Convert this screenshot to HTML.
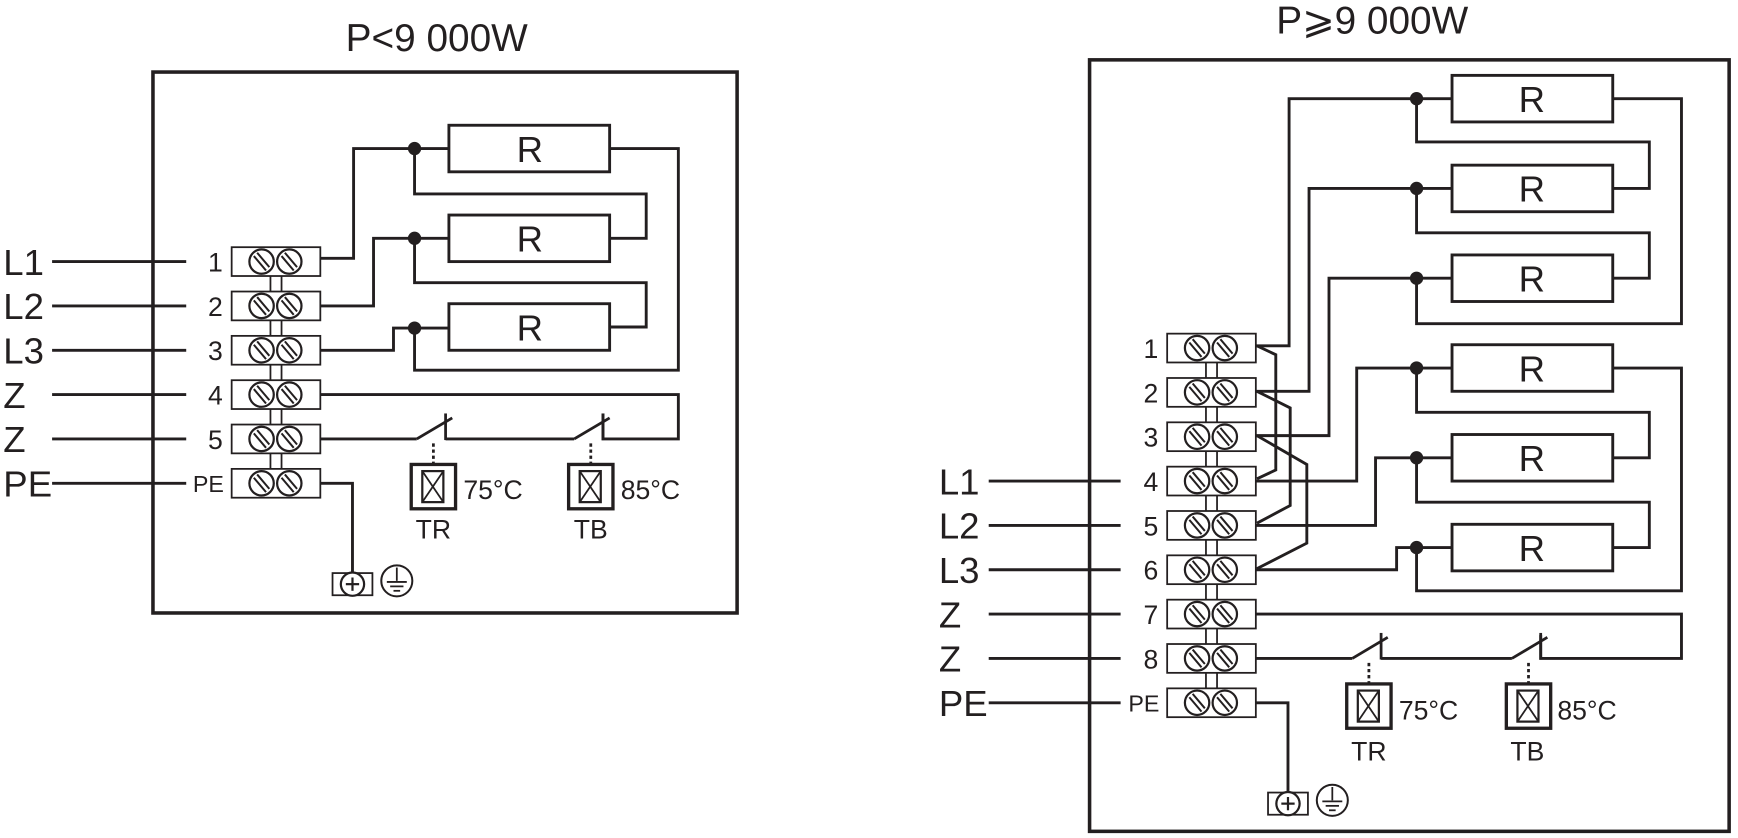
<!DOCTYPE html>
<html><head><meta charset="utf-8">
<style>
html,body{margin:0;padding:0;background:#fff;}
svg{display:block;}
text{font-family:"Liberation Sans",sans-serif;fill:#231f20;}
</style></head>
<body>
<svg width="1738" height="838" viewBox="0 0 1568 756" preserveAspectRatio="none" xmlns="http://www.w3.org/2000/svg">
<defs>
<g id="term">
<rect x="0" y="-13" width="80" height="26" fill="#fff" stroke="#231f20" stroke-width="1.6"/>
<circle cx="27" cy="0" r="11" fill="#fff" stroke="#231f20" stroke-width="2"/>
<circle cx="52" cy="0" r="11" fill="#fff" stroke="#231f20" stroke-width="2"/>
<g stroke="#231f20" stroke-width="1.8">
<line x1="20" y1="-5" x2="31" y2="8"/><line x1="23" y1="-8" x2="34" y2="5"/>
<line x1="45" y1="-5" x2="56" y2="8"/><line x1="48" y1="-8" x2="59" y2="5"/>
</g>
</g>
<g id="th">
<g stroke="#231f20" stroke-width="2.5" fill="none">
<line x1="0" y1="0" x2="32" y2="-19"/>
<line x1="26" y1="-23" x2="26" y2="1"/>
<line x1="15" y1="4" x2="15" y2="22" stroke-dasharray="3,2.5" stroke-width="2.5"/>
<rect x="-5" y="23" width="40" height="40" stroke-width="3"/>
<rect x="5" y="29" width="19" height="28" stroke-width="2"/>
<line x1="5" y1="29" x2="24" y2="57" stroke-width="1.6"/>
<line x1="24" y1="29" x2="5" y2="57" stroke-width="1.6"/>
</g>
</g>
<g id="gnd">
<rect x="-18" y="0" width="36" height="20" fill="#fff" stroke="#231f20" stroke-width="1.6"/>
<circle cx="0" cy="10" r="10.5" fill="#fff" stroke="#231f20" stroke-width="2"/>
<line x1="-6" y1="10" x2="6" y2="10" stroke="#231f20" stroke-width="2"/>
<line x1="0" y1="4" x2="0" y2="16" stroke="#231f20" stroke-width="2"/>
<circle cx="40" cy="7" r="14" fill="#fff" stroke="#231f20" stroke-width="1.8"/>
<line x1="40" y1="-5" x2="40" y2="7" stroke="#231f20" stroke-width="1.6"/>
<line x1="31" y1="8" x2="49" y2="8" stroke="#231f20" stroke-width="1.6"/>
<line x1="34" y1="12" x2="46" y2="12" stroke="#231f20" stroke-width="1.6"/>
<line x1="37" y1="16" x2="43" y2="16" stroke="#231f20" stroke-width="1.6"/>
</g>
</defs>

<!-- LEFT DIAGRAM -->
<text x="394" y="46" font-size="35" text-anchor="middle">P&lt;9 000W</text>
<rect x="138" y="65" width="527" height="488" fill="none" stroke="#231f20" stroke-width="3.2"/>

<g stroke="#231f20" stroke-width="2.6" fill="none">
<line x1="47" y1="236" x2="168" y2="236"/>
<line x1="47" y1="276" x2="168" y2="276"/>
<line x1="47" y1="316" x2="168" y2="316"/>
<line x1="47" y1="356" x2="168" y2="356"/>
<line x1="47" y1="396" x2="168" y2="396"/>
<line x1="47" y1="436" x2="168" y2="436"/>
<polyline points="289,233 319,233 319,134 405,134"/>
<polyline points="374,134 374,175 583,175 583,215 550,215"/>
<polyline points="550,134 612,134 612,334 374,334 374,295"/>
<polyline points="289,276 337,276 337,215 405,215"/>
<polyline points="374,215 374,255 583,255 583,295 550,295"/>
<polyline points="289,316 355,316 355,296 405,296"/>
<polyline points="289,356 612,356 612,396 544,396 544,373"/>
<polyline points="289,396 376,396"/>
<polyline points="402,396 518,396"/>
<polyline points="289,436 318,436 318,517"/>
</g>
<g stroke="#231f20" stroke-width="1.6"><line x1="244" y1="236" x2="244" y2="436"/><line x1="254" y1="236" x2="254" y2="436"/></g>
<rect x="405" y="113" width="145" height="42" fill="#fff" stroke="#231f20" stroke-width="2.6"/>
<rect x="405" y="194" width="145" height="42" fill="#fff" stroke="#231f20" stroke-width="2.6"/>
<rect x="405" y="274" width="145" height="42" fill="#fff" stroke="#231f20" stroke-width="2.6"/>
<text x="478" y="146" font-size="33" text-anchor="middle">R</text>
<text x="478" y="227" font-size="33" text-anchor="middle">R</text>
<text x="478" y="307" font-size="33" text-anchor="middle">R</text>
<circle cx="374" cy="134" r="6" fill="#231f20"/>
<circle cx="374" cy="215" r="6" fill="#231f20"/>
<circle cx="374" cy="296" r="6" fill="#231f20"/>
<use href="#term" x="209" y="236"/><use href="#term" x="209" y="276"/><use href="#term" x="209" y="316"/>
<use href="#term" x="209" y="356"/><use href="#term" x="209" y="396"/><use href="#term" x="209" y="436"/>
<g font-size="33"><text x="3" y="248">L1</text><text x="3" y="288">L2</text><text x="3" y="328">L3</text><text x="3" y="368">Z</text><text x="3" y="408">Z</text><text x="3" y="448">PE</text></g>
<g font-size="24" text-anchor="end"><text x="201" y="245">1</text><text x="201" y="285">2</text><text x="201" y="325">3</text><text x="201" y="365">4</text><text x="201" y="405">5</text><text x="202" y="444" font-size="21">PE</text></g>
<use href="#th" x="376" y="396"/><use href="#th" x="518" y="396"/>
<text x="418" y="450" font-size="24">75°C</text><text x="560" y="450" font-size="24">85°C</text>
<text x="391" y="486" font-size="24" text-anchor="middle">TR</text><text x="533" y="486" font-size="24" text-anchor="middle">TB</text>
<use href="#gnd" x="318" y="517"/>

<!-- RIGHT DIAGRAM -->
<text x="1238" y="30" font-size="35" text-anchor="middle">P⩾9 000W</text>
<rect x="983" y="54" width="577" height="696" fill="none" stroke="#231f20" stroke-width="3.2"/>
<g stroke="#231f20" stroke-width="2.6" fill="none">
<line x1="892" y1="434" x2="1011" y2="434"/>
<line x1="892" y1="474" x2="1011" y2="474"/>
<line x1="892" y1="514" x2="1011" y2="514"/>
<line x1="892" y1="554" x2="1011" y2="554"/>
<line x1="892" y1="594" x2="1011" y2="594"/>
<line x1="892" y1="634" x2="1011" y2="634"/>
<polyline points="1133,312 1163,312 1163,89 1310,89"/>
<polyline points="1278,89 1278,128 1488,128 1488,170 1455,170"/>
<polyline points="1455,89 1517,89 1517,292 1278,292 1278,251"/>
<polyline points="1133,353 1181,353 1181,170 1310,170"/>
<polyline points="1278,170 1278,210 1488,210 1488,251 1455,251"/>
<polyline points="1133,393 1199,393 1199,251 1310,251"/>
<polyline points="1133,434 1224,434 1224,332 1310,332"/>
<polyline points="1278,332 1278,372 1488,372 1488,413 1455,413"/>
<polyline points="1455,332 1517,332 1517,533 1278,533 1278,494"/>
<polyline points="1133,474 1241,474 1241,413 1310,413"/>
<polyline points="1278,413 1278,453 1488,453 1488,494 1455,494"/>
<polyline points="1133,514 1260,514 1260,494 1310,494"/>
<polyline points="1134,312 1151,320 1151,424 1134,432"/>
<polyline points="1134,353 1164,368 1164,456 1134,472"/>
<polyline points="1134,393 1179,419 1179,490 1134,513"/>
<polyline points="1133,554 1517,554 1517,594 1390,594 1390,573"/>
<polyline points="1133,594 1220,594"/>
<polyline points="1246,594 1364,594"/>
<polyline points="1133,634 1162,634 1162,715"/>
</g>
<g stroke="#231f20" stroke-width="1.6"><line x1="1088" y1="314" x2="1088" y2="634"/><line x1="1098" y1="314" x2="1098" y2="634"/></g>
<g fill="#fff" stroke="#231f20" stroke-width="2.6">
<rect x="1310" y="68" width="145" height="42"/><rect x="1310" y="149" width="145" height="42"/><rect x="1310" y="230" width="145" height="42"/>
<rect x="1310" y="311" width="145" height="42"/><rect x="1310" y="392" width="145" height="42"/><rect x="1310" y="473" width="145" height="42"/>
</g>
<g font-size="33" text-anchor="middle">
<text x="1382" y="101">R</text><text x="1382" y="182">R</text><text x="1382" y="263">R</text>
<text x="1382" y="344">R</text><text x="1382" y="425">R</text><text x="1382" y="506">R</text>
</g>
<g fill="#231f20">
<circle cx="1278" cy="89" r="6"/><circle cx="1278" cy="170" r="6"/><circle cx="1278" cy="251" r="6"/>
<circle cx="1278" cy="332" r="6"/><circle cx="1278" cy="413" r="6"/><circle cx="1278" cy="494" r="6"/>
</g>
<use href="#term" x="1053" y="314"/><use href="#term" x="1053" y="354"/><use href="#term" x="1053" y="394"/>
<use href="#term" x="1053" y="434"/><use href="#term" x="1053" y="474"/><use href="#term" x="1053" y="514"/>
<use href="#term" x="1053" y="554"/><use href="#term" x="1053" y="594"/><use href="#term" x="1053" y="634"/>
<g font-size="33"><text x="847" y="446">L1</text><text x="847" y="486">L2</text><text x="847" y="526">L3</text><text x="847" y="566">Z</text><text x="847" y="606">Z</text><text x="847" y="646">PE</text></g>
<g font-size="24" text-anchor="end"><text x="1045" y="323">1</text><text x="1045" y="363">2</text><text x="1045" y="403">3</text><text x="1045" y="443">4</text><text x="1045" y="483">5</text><text x="1045" y="523">6</text><text x="1045" y="563">7</text><text x="1045" y="603">8</text><text x="1046" y="642" font-size="21">PE</text></g>
<use href="#th" x="1220" y="594"/><use href="#th" x="1364" y="594"/>
<text x="1262" y="649" font-size="24">75°C</text><text x="1405" y="649" font-size="24">85°C</text>
<text x="1235" y="686" font-size="24" text-anchor="middle">TR</text><text x="1378" y="686" font-size="24" text-anchor="middle">TB</text>
<use href="#gnd" x="1162" y="715"/>
</svg>
</body></html>
